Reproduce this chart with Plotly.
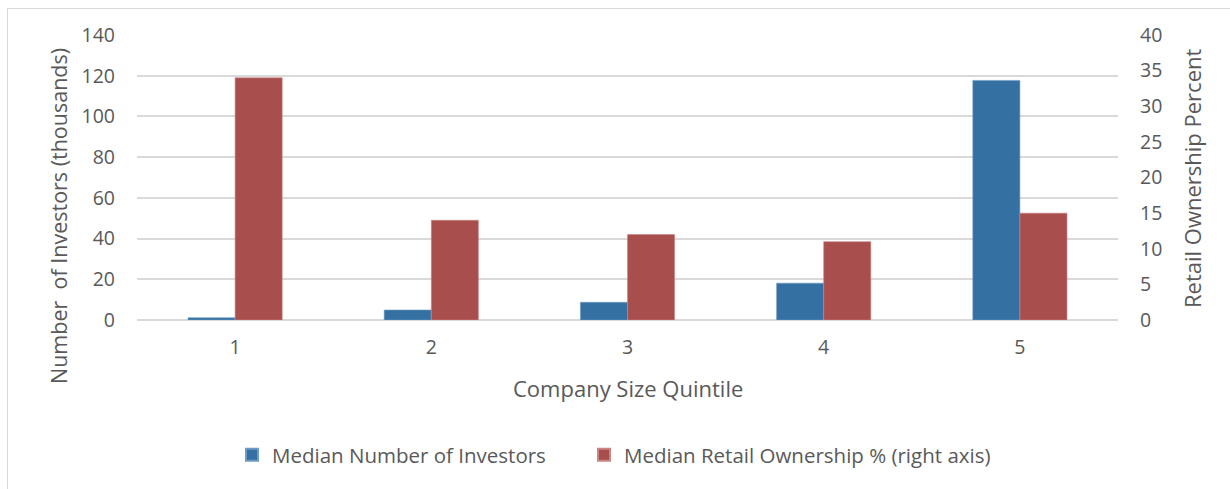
import plotly.graph_objects as go

# Company size quintiles and the two median measures
quintiles = ["1", "2", "3", "4", "5"]
median_investors_k = [1.1, 4.9, 8.7, 18.1, 117.7]
median_retail_pct = [34, 14, 12, 11, 15]

left_ticks = [0, 20, 40, 60, 80, 100, 120, 140]
right_ticks = [0, 5, 10, 15, 20, 25, 30, 35, 40]

BLUE = "#3470A2"
RED = "#A84F4E"
TEXT = "#595959"
GRID = "#D9D9D9"
FONT = "Open Sans"

W, H = 1230, 489
L, R, T, B = 137, 1118, 35, 320  # plot area edges in pixels


def px_x(x):
    return (x - L) / (R - L)


def px_y(y):
    return (B - y) / (B - T)


fig = go.Figure()
fig.add_trace(go.Bar(
    x=quintiles, y=median_investors_k, name="Median Number of Investors",
    marker=dict(color=BLUE, line=dict(color="#6E9AC3", width=0.6)),
    offsetgroup="inv", yaxis="y", legend="legend",
))
fig.add_trace(go.Bar(
    x=quintiles, y=median_retail_pct, name="Median Retail Ownership % (right axis)",
    marker=dict(color=RED, line=dict(color="#C98585", width=0.6)),
    offsetgroup="ret", yaxis="y2", legend="legend2",
))

tick_font = dict(family=FONT, size=19.5, color=TEXT)
legend_style = dict(
    orientation="h", xanchor="left", y=px_y(455), yanchor="middle",
    font=dict(family=FONT, size=20.5, color=TEXT), itemsizing="constant",
    itemwidth=30, bgcolor="rgba(0,0,0,0)",
)

fig.update_layout(
    width=W, height=H,
    margin=dict(l=L, r=W - R, t=T, b=H - B),
    paper_bgcolor="white", plot_bgcolor="white",
    barmode="group", bargap=0.52, bargroupgap=0,
    font=dict(family=FONT, color=TEXT),
    showlegend=True,
    legend=dict(x=px_x(232), **legend_style),
    legend2=dict(x=px_x(584), **legend_style),
    xaxis=dict(
        type="category", showgrid=False, showline=False, zeroline=False,
        ticks="", tickfont=tick_font, ticklabelstandoff=13,
    ),
    yaxis=dict(
        range=[0, 140], tickvals=left_ticks, showgrid=True, gridcolor=GRID,
        gridwidth=1.5, zeroline=True, zerolinecolor=GRID, zerolinewidth=1.5,
        showline=False, ticks="", tickfont=tick_font, ticklabelstandoff=21,
    ),
    yaxis2=dict(
        range=[0, 40], tickvals=right_ticks, overlaying="y", side="right",
        showgrid=False, zeroline=False, showline=False, ticks="",
        tickfont=tick_font, ticklabelstandoff=21,
    ),
    annotations=[
        dict(text="Company Size Quintile", xref="paper", yref="paper",
             x=px_x(628), y=px_y(388), xanchor="center", yanchor="middle",
             showarrow=False, font=dict(family=FONT, size=22, color=TEXT)),
        dict(text="Number  of Investors (thousands)", xref="paper", yref="paper",
             x=px_x(58), y=px_y(216), xanchor="center", yanchor="middle",
             textangle=-90, showarrow=False,
             font=dict(family=FONT, size=21.5, color=TEXT)),
        dict(text="Retail Ownership Percent", xref="paper", yref="paper",
             x=px_x(1192), y=px_y(179), xanchor="center", yanchor="middle",
             textangle=-90, showarrow=False,
             font=dict(family=FONT, size=22, color=TEXT)),
    ],
    shapes=[
        dict(type="rect", xref="paper", yref="paper",
             x0=px_x(7.5), x1=px_x(1240), y0=px_y(500), y1=px_y(8.5),
             line=dict(color="#D9D9D9", width=1), fillcolor="rgba(0,0,0,0)",
             layer="below"),
    ],
)

fig.write_html("out.html")
